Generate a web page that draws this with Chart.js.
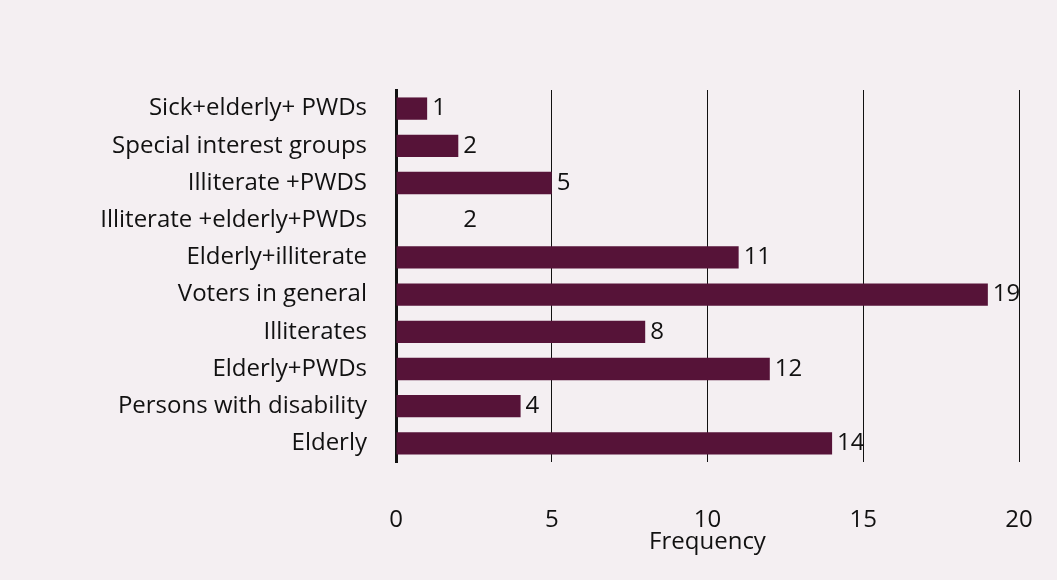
<!DOCTYPE html>
<html>
<head>
<meta charset="utf-8">
<script src="https://cdn.jsdelivr.net/npm/chart.js@4/dist/chart.umd.min.js"></script>
<style>
  html, body { margin: 0; padding: 0; background: #f4eff2; }
  #wrap { width: 1057px; height: 580px; }
</style>
</head>
<body>
<div id="wrap"><canvas id="barChart"></canvas></div>
<script>
const categories = [
  "Sick+elderly+ PWDs",
  "Special interest groups",
  "Illiterate +PWDS",
  "Illiterate +elderly+PWDs",
  "Elderly+illiterate",
  "Voters in general",
  "Illiterates",
  "Elderly+PWDs",
  "Persons with disability",
  "Elderly"
];
const frequency = [1, 2, 5, 2, 11, 19, 8, 12, 4, 14];
const xTicks = [0, 5, 10, 15, 20];

// in the printed figure this bar did not come out, only its "2" label
const missingBar = "Illiterate +elderly+PWDs";

const barColor = "#561338";
const textColor = "#111";
const fontFamily = "'Open Sans', 'Noto Sans', sans-serif";

// draws the number just after the end of each bar
const valueLabels = {
  id: "valueLabels",
  afterDatasetsDraw(chart) {
    const ctx = chart.ctx;
    const meta = chart.getDatasetMeta(0);
    ctx.save();
    ctx.fillStyle = textColor;
    ctx.font = "24px " + fontFamily;
    ctx.textAlign = "left";
    ctx.textBaseline = "middle";
    meta.data.forEach((bar, i) => {
      ctx.fillText(String(frequency[i]), bar.x + 5, bar.y);
    });
    ctx.restore();
  }
};

new Chart(document.getElementById("barChart"), {
  type: "bar",
  data: {
    labels: categories,
    datasets: [{
      data: frequency,
      backgroundColor: (c) => categories[c.dataIndex] === missingBar ? "rgba(0,0,0,0)" : barColor,
      borderWidth: 0,
      barPercentage: 0.6,
      categoryPercentage: 1
    }]
  },
  options: {
    indexAxis: "y",
    responsive: true,
    maintainAspectRatio: false,
    animation: false,
    layout: { padding: { top: 90, right: 38, bottom: 20, left: 0 } },
    plugins: {
      legend: { display: false },
      tooltip: { enabled: false }
    },
    scales: {
      x: {
        min: 0,
        max: 20,
        afterBuildTicks: (scale) => { scale.ticks = xTicks.map(v => ({ value: v })); },
        afterFit: (scale) => { scale.height = 98; },
        grid: { color: "#111", lineWidth: 1, drawTicks: true, tickLength: 40, tickColor: "rgba(0,0,0,0)" },
        border: { display: false },
        ticks: {
          padding: 4,
          color: textColor,
          font: { family: fontFamily, size: 24 }
        },
        title: {
          display: true,
          text: "Frequency",
          color: textColor,
          padding: { top: 0, bottom: 3 },
          font: { family: fontFamily, size: 24 }
        }
      },
      y: {
        afterFit: (scale) => { scale.width = 396; },
        grid: { display: false, drawTicks: false },
        border: { display: true, color: "#111", width: 3 },
        ticks: {
          padding: 29,
          color: textColor,
          font: { family: fontFamily, size: 24 }
        }
      }
    }
  },
  plugins: [valueLabels]
});
</script>
</body>
</html>
